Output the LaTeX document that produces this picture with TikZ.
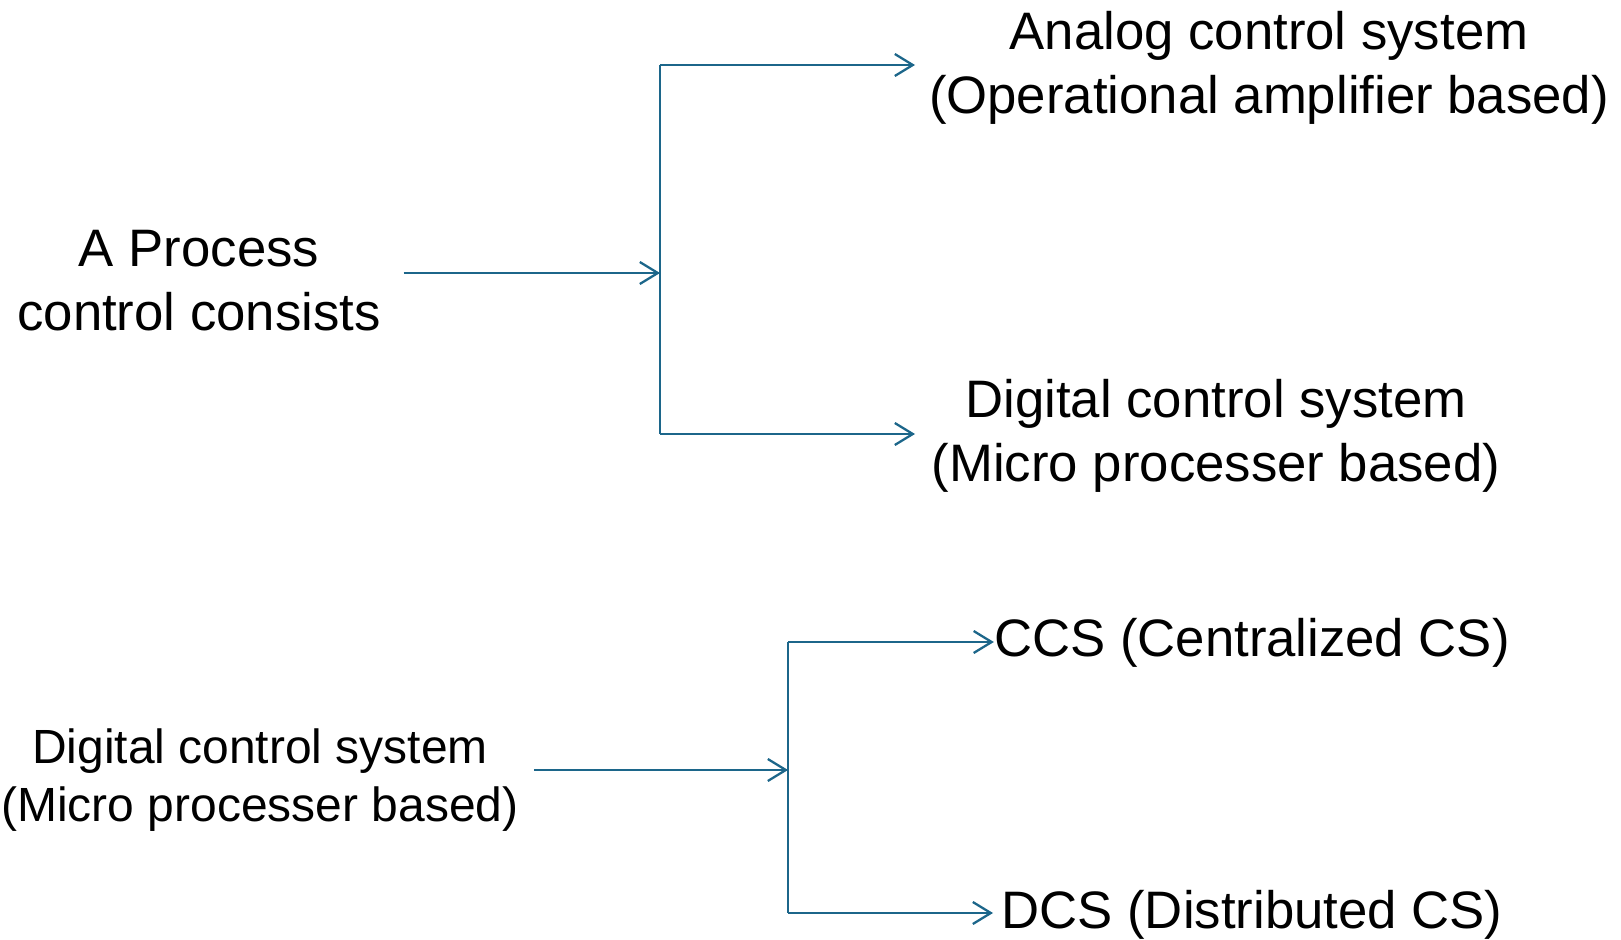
\documentclass[tikz,border=0pt]{standalone}
\usepackage{fontspec}
\setmainfont{Liberation Sans}
\usetikzlibrary{arrows.meta, positioning}
\definecolor{LinkBlue}{RGB}{28,102,138}

\begin{document}
\begin{tikzpicture}[
  big/.style={align=center, inner sep=0pt,
              font=\fontsize{30}{36.4}\selectfont},
  small/.style={big, font=\fontsize{27.3}{33}\selectfont},
  link/.style={LinkBlue, line width=1.3pt},
  arrow/.style={link, -{Straight Barb[length=0.36cm, width=0.44cm]}},
]
\useasboundingbox (0,0) rectangle (32.42,-18.8);

% Process control split
\node[big] (proc) at (3.98,-5.62) {A Process\\control consists};
\node[big] (analog) at (25.38,-1.35) {Analog control system\\(Operational amplifier based)};
\node[big] (digital) at (24.32,-8.71) {Digital control system\\(Micro processer based)};

\coordinate (j1) at (13.2,-5.46);
\coordinate (j1t) at (13.2,-1.30);
\coordinate (j1b) at (13.2,-8.68);
\coordinate (e1t) at (18.3,-1.30);
\coordinate (e1b) at (18.3,-8.68);

\draw[arrow, shorten <=0.45cm] (proc.east |- j1) -- (j1);
\draw[link] (j1t) -- (j1b);
\draw[arrow] (j1t) -- (e1t);
\draw[arrow] (j1b) -- (e1b);

% Digital control split
\node[small] (dig2) at (5.2,-15.6) {Digital control system\\(Micro processer based)};
\node[big] (ccs) at (25.04,-12.86) {CCS (Centralized CS)};
\node[big] (dcs) at (25.04,-18.3) {DCS (Distributed CS)};

\coordinate (j2) at (15.76,-15.4);
\coordinate (j2t) at (15.76,-12.84);
\coordinate (j2b) at (15.76,-18.26);

\draw[arrow, shorten <=0.3cm] (dig2.east |- j2) -- (j2);
\draw[link] (j2t) -- (j2b);
\draw[arrow] (j2t) -- (ccs.west |- j2t);
\draw[arrow] (j2b) -- (19.86,-18.26);

\end{tikzpicture}
\end{document}
